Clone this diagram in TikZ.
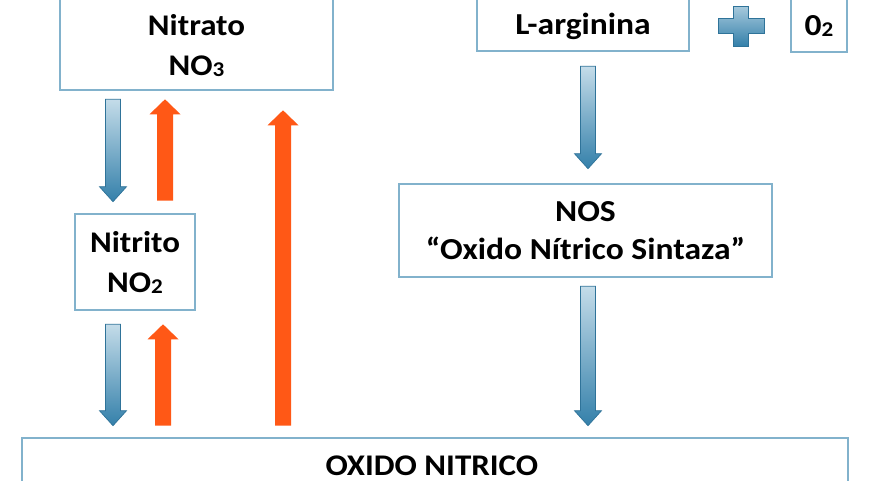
\documentclass[tikz,border=0pt]{standalone}
\usepackage{fontspec}
\setmainfont{Carlito}[FakeStretch=1.1]
\usetikzlibrary{calc}
\definecolor{boxline}{RGB}{130,178,204}
\definecolor{orng}{RGB}{255,88,22}
\definecolor{bluelt}{RGB}{196,220,233}
\definecolor{bluedk}{RGB}{52,128,170}
\newcommand\lsub[1]{{\fontsize{21pt}{21pt}\selectfont\raisebox{-1pt}{#1}}}
\newcommand\bluedown[2]{%
  \shade[top color=bluelt, bottom color=bluedk, draw=bluedk!90!black, line width=0.7pt]
    ($(#1)+(-7.5,0)$) -- ($(#2)+(-7.5,-15)$) -- ($(#2)+(-13.5,-15)$) -- (#2)
    -- ($(#2)+(13.5,-15)$) -- ($(#2)+(7.5,-15)$) -- ($(#1)+(7.5,0)$) -- cycle;}
\newcommand\orangeup[2]{%
  \fill[orng]
    ($(#1)+(-8,0)$) -- ($(#2)+(-8,15)$) -- ($(#2)+(-15.5,15)$) -- (#2)
    -- ($(#2)+(15.5,15)$) -- ($(#2)+(8,15)$) -- ($(#1)+(8,0)$) -- cycle;}
\begin{document}
\begin{tikzpicture}[x=1pt,y=-1pt,
  box/.style={draw=boxline, line width=2.6pt, fill=white, rectangle, inner sep=0pt},
  txt/.style={inner sep=0pt, align=center, font=\bfseries\fontsize{30.5}{38}\selectfont},
  bigtxt/.style={inner sep=0pt, align=center, font=\bfseries\fontsize{30}{40}\selectfont}]
\useasboundingbox[fill=white] (0,0) rectangle (880,480);

% boxes
\node[box, minimum width=273pt, minimum height=100pt] (nitrato) at (196.5,40) {};
\node[box, minimum width=120pt, minimum height=96pt] (nitrito) at (135,262) {};
\node[box, minimum width=212pt, minimum height=61pt] (larg) at (583,20.5) {};
\node[box, minimum width=56pt, minimum height=62pt] (oxig) at (819,21) {};
\node[box, minimum width=373pt, minimum height=93pt] (nos) at (585.5,230.5) {};
\node[box, minimum width=826pt, minimum height=82pt] (oxido) at (435,479) {};

% texts
\node[bigtxt] (nitratoT) at (196.5,45.5) {Nitrato\\NO\lsub{3}};
\node[bigtxt] (nitritoT) at (135,262.5) {Nitrito\\NO\lsub{2}};
\node[txt] (largT) at (583,26) {L-arginina};
\node[txt] (oxigT) at (819,26) {0\lsub{2}};
\node[txt] (nosT) at (585.5,231) {NOS\\“Oxido Nítrico Sintaza”};
\node[bigtxt] (oxidoT) at (432,466) {OXIDO NITRICO};

% plus sign
\shade[top color=bluelt!80!bluedk, bottom color=bluedk, draw=bluedk!90!black, line width=0.7pt]
  (733.5,6) -- (748.5,6) -- (748.5,18) -- (764,18) -- (764,33) -- (748.5,33) -- (748.5,46)
  -- (733.5,46) -- (733.5,33) -- (718,33) -- (718,18) -- (733.5,18) -- cycle;

% arrow anchors
\coordinate (b1s) at ($(nitrato.south)+(-83.5,8)$);
\coordinate (b1e) at ($(nitrito.north)+(-22,-11)$);
\coordinate (o1s) at ($(nitrito.north)+(30,-12)$);
\coordinate (o1e) at ($(nitrato.south)+(-31.5,8)$);
\coordinate (b2s) at ($(nitrito.south)+(-22,13)$);
\coordinate (b2e) at ($(oxido.north)+(-322,-11)$);
\coordinate (o2s) at ($(oxido.north)+(-272,-11)$);
\coordinate (o2e) at ($(nitrito.south)+(28,13)$);
\coordinate (o3s) at ($(oxido.north)+(-152,-11)$);
\coordinate (o3e) at ($(nitrato.south)+(86.5,19)$);
\coordinate (b3s) at ($(larg.south)+(5,14)$);
\coordinate (b3e) at ($(nos.north)+(2.5,-14)$);
\coordinate (b4s) at ($(nos.south)+(2.5,8)$);
\coordinate (b4e) at ($(oxido.north)+(153,-11)$);

\bluedown{b1s}{b1e}
\orangeup{o1s}{o1e}
\bluedown{b2s}{b2e}
\orangeup{o2s}{o2e}
\orangeup{o3s}{o3e}
\bluedown{b3s}{b3e}
\bluedown{b4s}{b4e}
\end{tikzpicture}
\end{document}
